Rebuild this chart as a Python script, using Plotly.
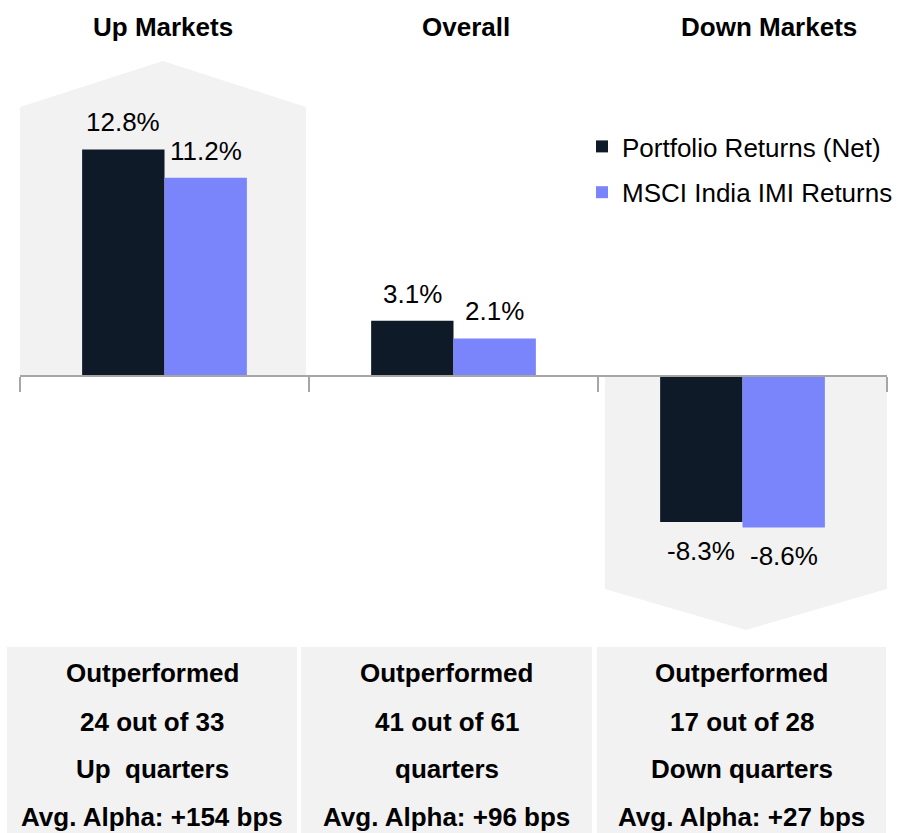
import plotly.graph_objects as go

# ---------------- data ----------------
categories = ["Up Markets", "Overall", "Down Markets"]
portfolio_returns = [12.8, 3.1, -8.3]
msci_returns = [11.2, 2.1, -8.6]
series_names = ["Portfolio Returns (Net)", "MSCI India IMI Returns"]
outperformed = [24, 41, 17]
total_quarters = [33, 61, 28]
quarter_labels = ["Up  quarters", "quarters", "Down quarters"]
avg_alpha_bps = [154, 96, 27]

# ---------------- styling / layout ----------------
W, H = 899, 833
L, R = 20, 12
PX_PER_UNIT = 17.66
Y0 = 375.5
FONT = "Arial, Liberation Sans, sans-serif"
DARK = "#0E1A27"
BLUE = "#7A84FB"
GRAY = "#F2F2F2"
AXIS = "#A6A6A6"
BARGAP = 0.43


def pxx(x):
    return (x - L) / (W - L - R)


def pyy(y):
    return 1 - y / H


y_top = Y0 / PX_PER_UNIT
y_bot = -(H - Y0) / PX_PER_UNIT

fig = go.Figure()
fig.add_trace(go.Bar(x=categories, y=portfolio_returns, name=series_names[0],
                     marker=dict(color=DARK, line=dict(width=0)), legendgroup="a"))
fig.add_trace(go.Bar(x=categories, y=msci_returns, name=series_names[1],
                     marker=dict(color=BLUE, line=dict(width=0)), legendgroup="b"))

# value labels
off = (1 - BARGAP) / 4
annotations = []
for i, (p, m) in enumerate(zip(portfolio_returns, msci_returns)):
    for val, dx in ((p, -off), (m, off)):
        annotations.append(dict(
            x=i + dx, y=val, xref="x", yref="y", text=f"{val:.1f}%", showarrow=False,
            yanchor="bottom" if val >= 0 else "top", yshift=10 if val >= 0 else -12,
            font=dict(family=FONT, size=26, color="black")))

# titles
title_x = [163, 466, 769]
for cx, t in zip(title_x, categories):
    annotations.append(dict(x=pxx(cx), y=pyy(27), xref="paper", yref="paper", text=f"<b>{t}</b>",
                            showarrow=False, xanchor="center", yanchor="middle",
                            font=dict(family=FONT, size=26, color="black")))

# bottom boxes
shapes = []
boxes = [(7, 297), (301, 592), (597, 886)]
line_y = [673, 722, 769, 817]
for (x0, x1), o, t, ql, a in zip(boxes, outperformed, total_quarters, quarter_labels, avg_alpha_bps):
    shapes.append(dict(type="rect", xref="paper", yref="paper", x0=pxx(x0), x1=pxx(x1),
                       y0=pyy(833), y1=pyy(647), fillcolor=GRAY, line=dict(width=0), layer="below"))
    lines = ["Outperformed", f"{o} out of {t}", ql, f"Avg. Alpha: +{a} bps"]
    for ly, txt in zip(line_y, lines):
        annotations.append(dict(x=pxx((x0 + x1) / 2), y=pyy(ly), xref="paper", yref="paper",
                                text=f"<b>{txt}</b>", showarrow=False, xanchor="center",
                                yanchor="middle", font=dict(family=FONT, size=26, color="black")))

# up / down pentagons
up = [(20, 375), (20, 107), (163, 61), (306, 107), (306, 375)]
down = [(605, 377), (887, 377), (887, 589), (746, 630), (605, 589)]
for poly in (up, down):
    path = "M " + " L ".join(f"{pxx(x)},{pyy(y)}" for x, y in poly) + " Z"
    shapes.append(dict(type="path", xref="paper", yref="paper", path=path,
                       fillcolor=GRAY, line=dict(width=0), layer="below"))

fig.update_layout(
    width=W, height=H,
    margin=dict(l=L, r=R, t=0, b=0),
    paper_bgcolor="white", plot_bgcolor="rgba(0,0,0,0)",
    barmode="group", bargap=BARGAP, bargroupgap=0,
    font=dict(family=FONT, color="black"),
    showlegend=True,
    legend=dict(x=pxx(582), y=pyy(123), xanchor="left", yanchor="top",
                font=dict(family=FONT, size=26, color="black"),
                traceorder="grouped", tracegroupgap=9, bgcolor="rgba(0,0,0,0)"),
    xaxis=dict(type="category", range=[-0.5, 2.5], anchor="free", position=(H - Y0) / H,
               showline=True, linecolor=AXIS, linewidth=2, ticks="outside", ticklen=15,
               tickwidth=2, tickcolor=AXIS, tickson="boundaries", showticklabels=False,
               showgrid=False, zeroline=False, fixedrange=True),
    yaxis=dict(range=[y_bot, y_top], visible=False, showgrid=False, zeroline=False,
               fixedrange=True),
    annotations=annotations, shapes=shapes,
)

fig.write_html("out.html", config={"displayModeBar": False},
               post_script="document.body.style.margin='0';document.body.style.padding='0';")
